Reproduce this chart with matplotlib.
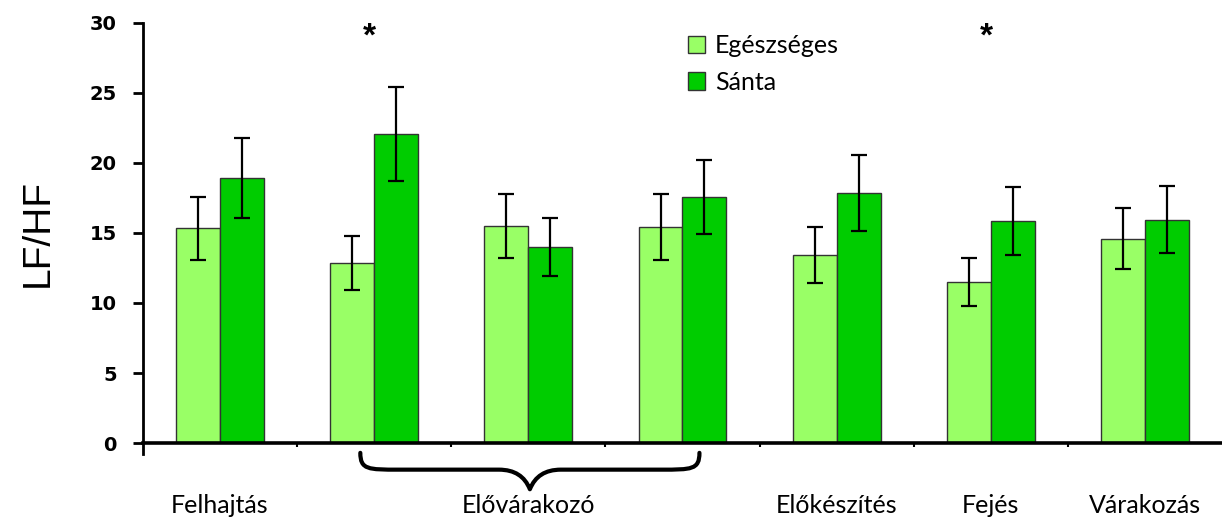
import matplotlib
matplotlib.use("Agg")
import numpy as np
from matplotlib import pyplot as plt
from matplotlib.path import Path
from matplotlib.patches import PathPatch
from matplotlib.patches import Patch

# ---- data ----
healthy = [15.35, 12.85, 15.5, 15.45, 13.45, 11.5, 14.6]
healthy_err = [2.25, 1.95, 2.3, 2.35, 2.0, 1.7, 2.2]
lame = [18.95, 22.05, 14.0, 17.55, 17.85, 15.85, 15.95]
lame_err = [2.85, 3.35, 2.1, 2.65, 2.7, 2.4, 2.4]
series_names = ["Egészséges", "Sánta"]
y_ticks = [0, 5, 10, 15, 20, 25, 30]
label_pos = [0, 2, 4, 5, 6]
label_text = ["Felhajtás", "Elővárakozó", "Előkészítés", "Fejés", "Várakozás"]
star_groups = [1, 5]
brace_span = (0.91, 3.11)

light = "#99FF66"
dark = "#00CC00"
edge = "#333333"

fig = plt.figure(figsize=(12.22, 5.2), dpi=100)
ax = fig.add_axes([0.117, 0.148, 0.883, 0.808])

x = np.arange(len(healthy))
w = 0.285
ekw = dict(ecolor="black", elinewidth=1.6, capsize=6, capthick=1.6)
ax.bar(x - w / 2, healthy, w, color=light, edgecolor=edge, linewidth=1.0,
       yerr=healthy_err, error_kw=ekw, zorder=2)
ax.bar(x + w / 2, lame, w, color=dark, edgecolor=edge, linewidth=1.0,
       yerr=lame_err, error_kw=ekw, zorder=2)

ax.set_xlim(-0.5, len(healthy) - 0.5)
ax.set_ylim(0, 30)
ax.set_yticks(y_ticks, [str(t) for t in y_ticks], fontfamily="DejaVu Sans",
              fontweight="bold", fontsize=14)
ax.tick_params(axis="y", direction="out", length=7, width=2, pad=12)

ax.set_xticks(label_pos, label_text, fontfamily="Lato", fontsize=18)
ax.tick_params(axis="x", which="major", length=0, pad=37)
ax.set_xticks(np.arange(0.5, len(healthy) - 1, 1.0), minor=True)
ax.tick_params(axis="x", which="minor", direction="out", length=3, width=1.5)

for s in ["top", "right"]:
    ax.spines[s].set_visible(False)
ax.spines["bottom"].set_linewidth(2.6)
ax.spines["left"].set_linewidth(2.0)
ax.spines["left"].set_bounds(-0.75, 30)

ax.set_ylabel("LF/HF", fontfamily="Liberation Sans", fontsize=28, labelpad=24)

# significance stars
for g in star_groups:
    ax.text(g - 0.03, 29.0, "*", ha="center", va="center", fontsize=24,
            fontweight="bold", fontfamily="Liberation Sans", clip_on=False)

# brace under the Elővárakozó groups
x0, x1 = brace_span
xm = (x0 + x1) / 2
yt, yl, yb = -0.7, -1.9, -3.3
verts = [
    (x0, yt), (x0, yl), (x0 + 0.05, yl), (x0 + 0.25, yl),
    (xm - 0.2, yl), (xm - 0.05, yl), (xm, yb),
    (xm + 0.05, yl), (xm + 0.2, yl), (x1 - 0.25, yl),
    (x1 - 0.05, yl), (x1, yl), (x1, yt),
]
codes = [Path.MOVETO, Path.CURVE4, Path.CURVE4, Path.CURVE4,
         Path.LINETO, Path.CURVE3, Path.CURVE3,
         Path.CURVE3, Path.CURVE3, Path.LINETO,
         Path.CURVE4, Path.CURVE4, Path.CURVE4]
ax.add_patch(PathPatch(Path(verts, codes), fill=False, lw=3, color="black",
                       clip_on=False, capstyle="round", joinstyle="round"))

handles = [Patch(facecolor=light, edgecolor=edge), Patch(facecolor=dark, edgecolor=edge)]
ax.legend(handles, series_names, loc="upper left", bbox_to_anchor=(0.484, 1.027),
          frameon=False, prop={"family": "Lato", "size": 18}, handlelength=0.7,
          handleheight=0.7, handletextpad=0.4, labelspacing=0.55)

fig.savefig("out.png", dpi=100)
